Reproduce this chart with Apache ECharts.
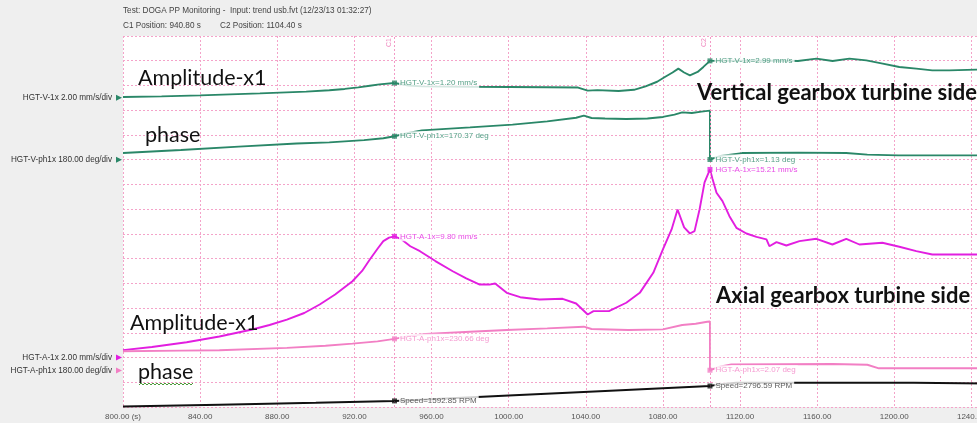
<!DOCTYPE html>
<html>
<head>
<meta charset="utf-8">
<script src="https://cdn.jsdelivr.net/npm/echarts@6/dist/echarts.min.js"></script>
<style>
  html, body { margin: 0; padding: 0; background: #efefef; overflow: hidden; }
  #chart { width: 1020px; height: 423px; }
</style>
</head>
<body>
<div id="chart"></div>
<script>
// ---- trend data: [time s, value] ----
const vAmp = [
  [800, 0.07], [820, 0.12], [840, 0.2], [871, 0.36], [895, 0.5], [907, 0.61], [915, 0.72], [922, 0.85], [928, 0.98], [933, 1.09], [940.8, 1.20],
  [948, 1.0], [955, 0.93], [980, 0.9], [1000, 0.88], [1020, 0.86], [1036, 0.83], [1041, 0.58], [1046, 0.62], [1057, 0.55],
  [1065, 0.65], [1071, 0.93], [1077, 1.3], [1081, 1.68], [1085, 2.05], [1088, 2.36], [1091, 2.05], [1094, 1.82],
  [1098, 2.09], [1101, 2.5], [1104.4, 2.99], [1115, 3.0], [1130, 3.0], [1145, 3.0], [1150, 2.98], [1159.6, 3.17],
  [1168, 2.98], [1176.7, 3.17], [1185.5, 3.03], [1194, 2.77], [1202.6, 2.49], [1211.4, 2.36], [1219.7, 2.22],
  [1228.5, 2.22], [1242.5, 2.28], [1260, 2.28]
];
const vPhase = [
  [800, 49], [830, 70], [860, 95], [890, 118], [907, 126], [925, 142], [935, 156], [940.8, 170.37], [948, 195],
  [955, 213], [980, 235], [1002, 255], [1020, 279], [1035, 305], [1039, 320], [1043, 303], [1050, 300], [1061, 296],
  [1072, 300], [1080, 311], [1086, 328], [1090, 344], [1095, 340], [1100, 350], [1104.4, 357], [1104.4, 1.13],
  [1110, 28], [1121, 48], [1150, 51], [1175, 48], [1186, 37], [1202, 31], [1260, 31]
];
const aAmp = [
  [800, 0.6], [815, 0.85], [833, 1.24], [850, 1.7], [867, 2.27], [876, 2.63], [885, 3.07], [894, 3.6], [902, 4.29],
  [910, 5.1], [919, 6.17], [924, 7.0], [928, 7.93], [932, 8.8], [935, 9.41], [938, 9.7], [940.8, 9.80],
  [944, 9.6], [949, 9.0], [954, 8.6], [962, 7.8], [971, 6.98], [978, 6.4], [985, 5.9], [990, 5.9], [993, 5.99], [999, 5.23], [1006, 4.88],
  [1016, 4.69], [1028, 4.75], [1035, 4.37], [1041, 3.48], [1044, 3.75], [1052, 3.75], [1061, 4.43], [1068, 5.23],
  [1075, 6.85], [1080, 8.74], [1084.5, 10.36], [1087.6, 11.97], [1091, 10.52], [1094, 10.03], [1096.4, 10.22],
  [1099, 11.97], [1101.6, 14.16], [1104.4, 15.21], [1105.7, 14.46], [1107.8, 13.32], [1110.9, 12.65], [1114.5, 11.43],
  [1118.1, 10.49], [1123.3, 10.03], [1128.5, 9.76], [1133.7, 9.55], [1135.2, 9.0], [1138.9, 9.33], [1144, 9.06],
  [1150.8, 9.41], [1159.6, 9.6], [1167.9, 9.14], [1175.1, 9.6], [1181.9, 9.14], [1193.8, 9.28], [1202.6, 8.96],
  [1211.4, 8.6], [1219.7, 8.33], [1242.5, 8.33], [1260, 8.3]
];
const aPhase = [
  [800, 140], [830, 145], [850, 148], [885, 165], [905, 180], [919, 196], [932, 212], [940.8, 230.66], [948, 250],
  [957, 265.6], [980, 282], [999, 294.8], [1020, 307], [1039, 318.8], [1043, 302], [1062, 294.8], [1080, 299.6],
  [1090, 331], [1097, 340], [1103, 355], [1104.4, 357], [1104.4, 2.07], [1110, 30], [1115.5, 45], [1168, 47],
  [1186, 42], [1192, 16], [1260, 16]
];
const speed = [
  [800, 1132], [850, 1290], [900, 1450], [940.8, 1592.85], [1000, 2030], [1050, 2400], [1104.4, 2796.59],
  [1110, 2950], [1118, 3065], [1210, 3065], [1211, 2990], [1260, 2990]
];

// ---- cursor readouts ----
const cursorNames = ['C1', 'C2'];
const cursorTimes = [940.80, 1104.40];
const vAmpAtCursor = [1.20, 2.99];
const vPhaseAtCursor = [170.37, 1.13];
const aAmpAtCursor = [9.80, 15.21];
const aPhaseAtCursor = [230.66, 2.07];
const speedAtCursor = [1592.85, 2796.59];

// ---- display settings ----
const DIVS = 15;
const GRID = { left: 123, top: 36, width: 887, height: 371 };
const pinkGrid = '#f4a3c9';
const uiFont = '"Liberation Sans", Arial, sans-serif';
const noteFont = 'Lato, "Open Sans", sans-serif';

// channel: scale per division and the division (from bottom) where zero sits
const channels = [
  { key: 'vAmp',   tag: 'HGT-V-1x',   perDiv: 2,    zeroDiv: 12.5,  unit: 'mm/s', color: '#2a8768', data: vAmp,   cur: vAmpAtCursor,   scale: 'HGT-V-1x 2.00 mm/s/div' },
  { key: 'vPhase', tag: 'HGT-V-ph1x', perDiv: 180,  zeroDiv: 10,    unit: 'deg',  color: '#2a8768', data: vPhase, cur: vPhaseAtCursor, scale: 'HGT-V-ph1x 180.00 deg/div' },
  { key: 'aAmp',   tag: 'HGT-A-1x',   perDiv: 2,    zeroDiv: 2,     unit: 'mm/s', color: '#e21ee0', data: aAmp,   cur: aAmpAtCursor,   scale: 'HGT-A-1x 2.00 mm/s/div' },
  { key: 'aPhase', tag: 'HGT-A-ph1x', perDiv: 180,  zeroDiv: 1.475, unit: 'deg',  color: '#f27fc4', data: aPhase, cur: aPhaseAtCursor, scale: 'HGT-A-ph1x 180.00 deg/div' },
  { key: 'speed',  tag: 'Speed',      perDiv: 2000, zeroDiv: -0.55, unit: 'RPM',  color: '#111111', data: speed,  cur: speedAtCursor,  scale: null }
];

const chart = echarts.init(document.getElementById('chart'), null, { renderer: 'canvas' });

const yAxes = [{
  type: 'value', min: 0, max: DIVS, interval: 1,
  axisLine: { show: false }, axisTick: { show: false }, axisLabel: { show: false },
  splitLine: { show: true, lineStyle: { color: pinkGrid, type: [2, 2], width: 1 } }
}];
channels.forEach(ch => {
  yAxes.push({
    type: 'value', show: false,
    min: -ch.zeroDiv * ch.perDiv, max: (DIVS - ch.zeroDiv) * ch.perDiv,
    splitLine: { show: false }
  });
});

const series = [];
channels.forEach((ch, i) => {
  series.push({
    name: ch.tag, type: 'line', yAxisIndex: i + 1, data: ch.data,
    showSymbol: false, smooth: false, z: 3, animation: false,
    lineStyle: { color: ch.color, width: ch.key === 'speed' ? 2 : 1.9 }
  });
});
channels.forEach((ch, i) => {
  series.push({
    name: ch.tag + ' cursor', type: 'scatter', yAxisIndex: i + 1,
    data: cursorTimes.map((t, k) => [t, ch.cur[k]]),
    symbol: 'rect', symbolSize: 5, z: 6, animation: false,
    itemStyle: { color: ch.color },
    label: {
      show: true, position: 'right', distance: 2,
      formatter: p => ch.tag + '=' + p.value[1].toFixed(2) + ' ' + ch.unit,
      fontFamily: uiFont, fontSize: 8, color: ch.color === '#111111' ? '#333' : ch.color,
      backgroundColor: '#ffffff', padding: [1, 2, 1, 1]
    }
  });
});
// measurement cursors
series.push({
  name: 'cursors', type: 'line', yAxisIndex: 0, data: [], z: 2, animation: false,
  markLine: {
    silent: true, symbol: 'none', animation: false,
    lineStyle: { color: '#f39ac6', type: [2, 2], width: 1 },
    label: { show: true, position: 'insideEndTop', distance: 2, fontSize: 7, color: '#f08ac0', fontFamily: uiFont,
             formatter: p => p.name },
    data: cursorTimes.map((t, k) => ({ name: cursorNames[k], xAxis: t }))
  }
});

chart.setOption({
  animation: false,
  backgroundColor: '#efefef',
  grid: Object.assign({ show: true, backgroundColor: '#ffffff', borderWidth: 0 }, GRID),
  xAxis: {
    type: 'value', min: 800, max: 1260, interval: 40,
    axisLine: { show: false }, axisTick: { show: false },
    axisLabel: {
      showMaxLabel: false, margin: 6, fontFamily: uiFont, fontSize: 8, color: '#555',
      formatter: v => v === 800 ? '800.00 (s)' : v.toFixed(2)
    },
    splitLine: { show: true, lineStyle: { color: pinkGrid, type: [2, 2], width: 1 } }
  },
  yAxis: yAxes,
  series: series
});

// scale captions and zero-level arrows on the left
const headFont = '8.2px ' + uiFont;
const graphics = [
  { type: 'text', style: { x: 123, y: 11, text: 'Test: DOGA PP Monitoring -  Input: trend usb.fvt (12/23/13 01:32:27)', font: headFont, fill: '#444', verticalAlign: 'middle' } },
  { type: 'text', style: { x: 123, y: 26, text: 'C1 Position: 940.80 s', font: headFont, fill: '#444', verticalAlign: 'middle' } },
  { type: 'text', style: { x: 220, y: 26, text: 'C2 Position: 1104.40 s', font: headFont, fill: '#444', verticalAlign: 'middle' } }
];
channels.forEach((ch, i) => {
  if (!ch.scale) return;
  const y0 = chart.convertToPixel({ yAxisIndex: i + 1 }, 0);
  graphics.push({ type: 'text', style: { x: 112, y: y0, text: ch.scale, font: '8.2px ' + uiFont, fill: '#333', align: 'right', verticalAlign: 'middle' } });
  graphics.push({ type: 'polygon', shape: { points: [[116, y0 - 3], [122, y0], [116, y0 + 3]] }, style: { fill: ch.color } });
});

// notes written over the traces
const notes = [
  { text: 'Amplitude-x1', x: 138, y: 78, bold: false },
  { text: 'phase', x: 145, y: 135, bold: false },
  { text: 'Vertical gearbox turbine side', x: 697, y: 93, bold: true },
  { text: 'Axial gearbox turbine side', x: 716, y: 296, bold: true },
  { text: 'Amplitude-x1', x: 130, y: 323, bold: false },
  { text: 'phase', x: 138, y: 372, bold: false }
];
notes.forEach(n => {
  graphics.push({ type: 'text', z: 10, style: { x: n.x, y: n.y, text: n.text, font: (n.bold ? 'bold 22px ' : '21.5px ') + noteFont, fill: '#111', verticalAlign: 'middle' } });
});
// spell-check squiggle under the lower "phase"
const squiggle = [];
for (let x = 139; x <= 194; x += 2) squiggle.push([x, 384 + ((x - 139) / 2 % 2 ? -1 : 1)]);
graphics.push({ type: 'polyline', z: 10, shape: { points: squiggle }, style: { stroke: '#4a9a3a', lineWidth: 1, fill: null } });

chart.setOption({ graphic: graphics });
</script>
</body>
</html>
